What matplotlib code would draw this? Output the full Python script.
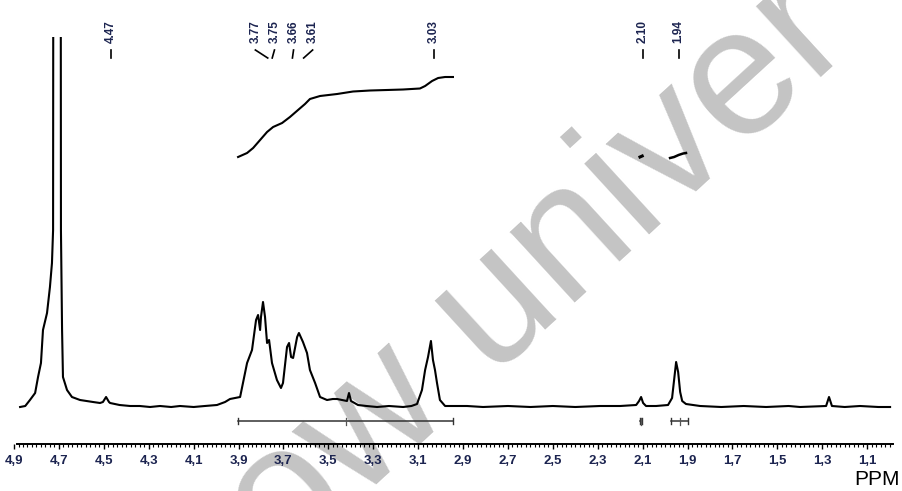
import matplotlib
matplotlib.use('Agg')
import matplotlib.pyplot as plt
from matplotlib.ticker import FixedLocator, FuncFormatter
import numpy as np

plt.rcParams['font.family'] = ['Liberation Sans', 'DejaVu Sans']

# spectrum trace (ppm, intensity above baseline)
spec_ppm = [4.873, 4.850, 4.829, 4.806, 4.793, 4.780, 4.771, 4.753, 4.740, 4.731, 4.726,
            4.724, 4.693,
            4.691, 4.686, 4.682, 4.664, 4.642, 4.606, 4.548, 4.517, 4.504, 4.490, 4.477,
            4.472, 4.430, 4.383, 4.340, 4.294, 4.250, 4.200, 4.161, 4.100, 4.050, 3.996,
            3.960, 3.938, 3.893, 3.862, 3.840, 3.822, 3.813, 3.804, 3.800, 3.791, 3.782,
            3.773, 3.764, 3.751, 3.729, 3.711, 3.702, 3.684, 3.675, 3.666, 3.657, 3.639,
            3.631, 3.613, 3.595, 3.582, 3.559, 3.537, 3.506, 3.480, 3.461, 3.417, 3.408,
            3.399, 3.368, 3.330, 3.283, 3.230, 3.167, 3.130, 3.105, 3.083, 3.069, 3.056,
            3.043, 3.034, 3.025, 3.016, 3.003, 2.980, 2.940, 2.882, 2.811, 2.700, 2.600,
            2.500, 2.400, 2.290, 2.200, 2.129, 2.116, 2.107, 2.098, 2.085, 2.040, 1.987,
            1.969, 1.960, 1.951, 1.942, 1.933, 1.924, 1.907, 1.844, 1.750, 1.650, 1.550,
            1.450, 1.399, 1.283, 1.270, 1.257, 1.200, 1.132, 1.050, 0.998]
spec_int = [0, 1, 7, 14, 30, 44, 77, 94, 120, 144, 177,
            800, 800,
            177, 77, 30, 17, 10, 7, 5, 4, 5, 10, 5,
            4, 2, 1, 1, 0, 1, 0, 1, 0, 1, 2,
            5, 8, 10, 44, 57, 87, 92, 77, 90, 105, 90,
            64, 67, 44, 27, 19, 24, 60, 64, 50, 49, 70,
            74, 65, 54, 37, 24, 10, 7, 8, 8, 6, 14,
            6, 2, 1, 0, 1, 0, 1, 3, 17, 37, 50,
            66, 47, 37, 24, 7, 1, 1, 1, 0, 1, 0,
            1, 0, 1, 1, 2, 6, 10, 4, 1, 1, 2,
            9, 27, 45, 35, 15, 6, 3, 1, 0, 1, 0,
            1, 0, 1, 10, 1, 0, 1, 0, 0]

# integral curve over 3.9 - 2.95 ppm
integ_ppm = [3.902, 3.862, 3.835, 3.804, 3.773, 3.746, 3.706, 3.671, 3.635, 3.604, 3.582,
             3.537, 3.461, 3.390, 3.314, 3.239, 3.167, 3.092, 3.069, 3.038, 3.011, 2.980,
             2.945]
integ_val = [250, 254, 259, 267, 275, 280, 284, 290, 297, 303, 308,
             311, 313, 315.5, 316.5, 317, 317.5, 318.5, 321, 326, 329, 330, 330]
# small integrals
integ2_ppm = [2.112, 2.102]
integ2_val = [250, 251]
integ3_ppm = [1.978, 1.960, 1.940, 1.920, 1.907]
integ3_val = [249, 250, 252, 253.5, 254]

# integration ranges (start, end)
int_ranges = [(3.902, 2.945), (2.112, 2.102), (1.973, 1.898)]

# peak picking labels
peak_groups = [[4.47], [3.77, 3.75, 3.66, 3.61], [3.03], [2.10], [1.94]]

tick_vals = np.round(np.arange(4.9, 1.0, -0.2), 1)

ink = '#1c2450'

fig = plt.figure(figsize=(9.02, 4.91), dpi=100)
ax = fig.add_axes([12 / 902, 47 / 491, 881 / 902, 407 / 491])
ax.patch.set_visible(False)
ax.set_xlim(4.909, 0.985)
ax.set_ylim(-37, 370)

ax.plot(spec_ppm, spec_int, color='black', lw=1.5, zorder=3)
ax.plot(integ_ppm, integ_val, color='black', lw=1.5, zorder=3)
ax.plot(integ2_ppm, integ2_val, color='black', lw=2.2, zorder=3)
ax.plot(integ3_ppm, integ3_val, color='black', lw=1.8, zorder=3)

# integration bars below the trace
for a, b in int_ranges:
    ax.plot([a, b], [-14, -14], color='#333333', lw=1.1)
    ax.plot([a, a], [-17, -11], color='#333333', lw=1.0)
    ax.plot([b, b], [-17, -11], color='#333333', lw=1.0)
    m = (a + b) / 2
    ax.plot([m, m], [-18, -11], color='#555555', lw=0.9)

# peak labels on top
gap = 0.085
for grp in peak_groups:
    c = np.mean(grp)
    n = len(grp)
    pos = [c + gap * ((n - 1) / 2 - i) for i in range(n)]
    for v, p in zip(grp, pos):
        ax.text(p, 364, f"{v:.2f}", rotation=90, ha='center', va='bottom',
                fontsize=8.5, fontweight='bold', color=ink, clip_on=False)
        ax.plot([p, v], [357, 349], color='black', lw=1.2, clip_on=False)

# x axis
for s in ['top', 'left', 'right']:
    ax.spines[s].set_visible(False)
ax.spines['bottom'].set_linewidth(1.4)
ax.spines['bottom'].set_bounds(4.885, 0.985)
ax.set_yticks([])
ax.xaxis.set_major_locator(FixedLocator(tick_vals))
ax.xaxis.set_minor_locator(FixedLocator(np.round(np.arange(4.88, 0.98, -0.02), 2)))
ax.xaxis.set_major_formatter(FuncFormatter(lambda v, p: f"{v:.1f}".replace('.', ',')))
ax.tick_params(axis='x', which='major', direction='out', length=3.5, width=1.0,
               pad=4.5, labelsize=9.5, labelcolor=ink)
ax.tick_params(axis='x', which='minor', direction='out', length=2, width=0.8)
for lb in ax.get_xticklabels():
    lb.set_fontweight('bold')

fig.text(900 / 902, 6 / 491, 'PPM', ha='right', va='baseline', fontsize=15, color='black')

# watermark behind the trace
fig.text(283 / 902, -80 / 491, 'ow univer', rotation=42.5, rotation_mode='anchor',
         ha='left', va='baseline', fontsize=131, color='#c4c4c4', zorder=-1)

fig.savefig('out.png', dpi=100)
